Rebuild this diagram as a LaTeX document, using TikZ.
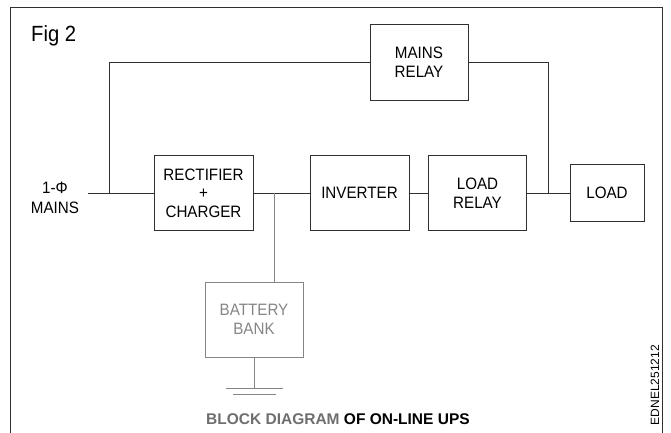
\documentclass[tikz,border=0pt]{standalone}
\usepackage{fontspec}
\setmainfont{Liberation Sans}
\newfontfamily\narrowf[FakeStretch=0.92]{Liberation Sans}
\definecolor{lineC}{HTML}{303030}
\definecolor{greyC}{HTML}{858585}
\definecolor{titleG}{HTML}{6E6E6E}
\begin{document}
\begin{tikzpicture}[x=1pt,y=-1pt,
  box/.style={draw=lineC, line width=0.9pt, inner sep=0pt, align=center,
    font=\narrowf\fontsize{16.5}{18.5}\selectfont},
  gbox/.style={box, draw=greyC, text=greyC},
  wire/.style={draw=lineC, line width=0.9pt},
  gwire/.style={draw=greyC, line width=0.9pt},
  lbl/.style={inner sep=0pt, align=center}]
\useasboundingbox (0,0) rectangle (671,433);
% frame
\draw[wire] (10,433) -- (10,7) -- (662,7) -- (662,433);
\node[lbl, anchor=base west, font=\narrowf\fontsize{22}{26}\selectfont] (fig) at (31,42) {Fig 2};
% blocks
\node[box, minimum width=98pt, minimum height=76pt] (mr) at (419,62) {MAINS\\RELAY};
\node[box, minimum width=99pt, minimum height=75pt] (rect) at (203.5,193) {RECTIFIER\\+\\CHARGER};
\node[box, minimum width=99pt, minimum height=75pt] (inv) at (359.5,193) {INVERTER};
\node[box, minimum width=98pt, minimum height=75pt] (lr) at (477.5,193) {LOAD\\RELAY};
\node[box, minimum width=74pt, minimum height=57pt] (load) at (607,193) {LOAD};
\node[gbox, minimum width=98pt, minimum height=75pt] (batt) at (254,319.5) {BATTERY\\BANK};
% input label
\node[lbl, font=\narrowf\fontsize{16.5}{20}\selectfont] (mains) at (55,198) {1-Φ\\MAINS};
% junction coordinates
\coordinate (in) at (88,193);
\coordinate (jl) at (109,193);
\coordinate (jr) at (548,193);
\coordinate (jb) at (274,193);
\coordinate (gnd) at (254,388);
\coordinate (g1l) at (226,388);
\coordinate (g1r) at (283,388);
\coordinate (g2l) at (233,394);
\coordinate (g2r) at (276,394);
% wires
\draw[wire] (in) -- (rect.west);
\draw[wire] (rect.east) -- (inv.west);
\draw[wire] (inv.east) -- (lr.west);
\draw[wire] (lr.east) -- (load.west);
\draw[wire] (jl) |- (mr.west);
\draw[wire] (mr.east) -| (jr);
\draw[gwire] (jb) -- (jb |- batt.north);
\draw[gwire] (batt.south) -- (gnd);
\draw[gwire] (g1l) -- (g1r);
\draw[gwire] (g2l) -- (g2r);
% captions
\node[lbl, anchor=west, font=\bfseries\fontsize{15.5}{18}\selectfont] (title) at (206,419)
  {\textcolor{titleG}{BLOCK DIAGRAM} OF ON-LINE UPS};
\node[lbl, rotate=90, font=\fontsize{12}{14}\selectfont] (code) at (655,385) {EDNEL251212};
\end{tikzpicture}
\end{document}
